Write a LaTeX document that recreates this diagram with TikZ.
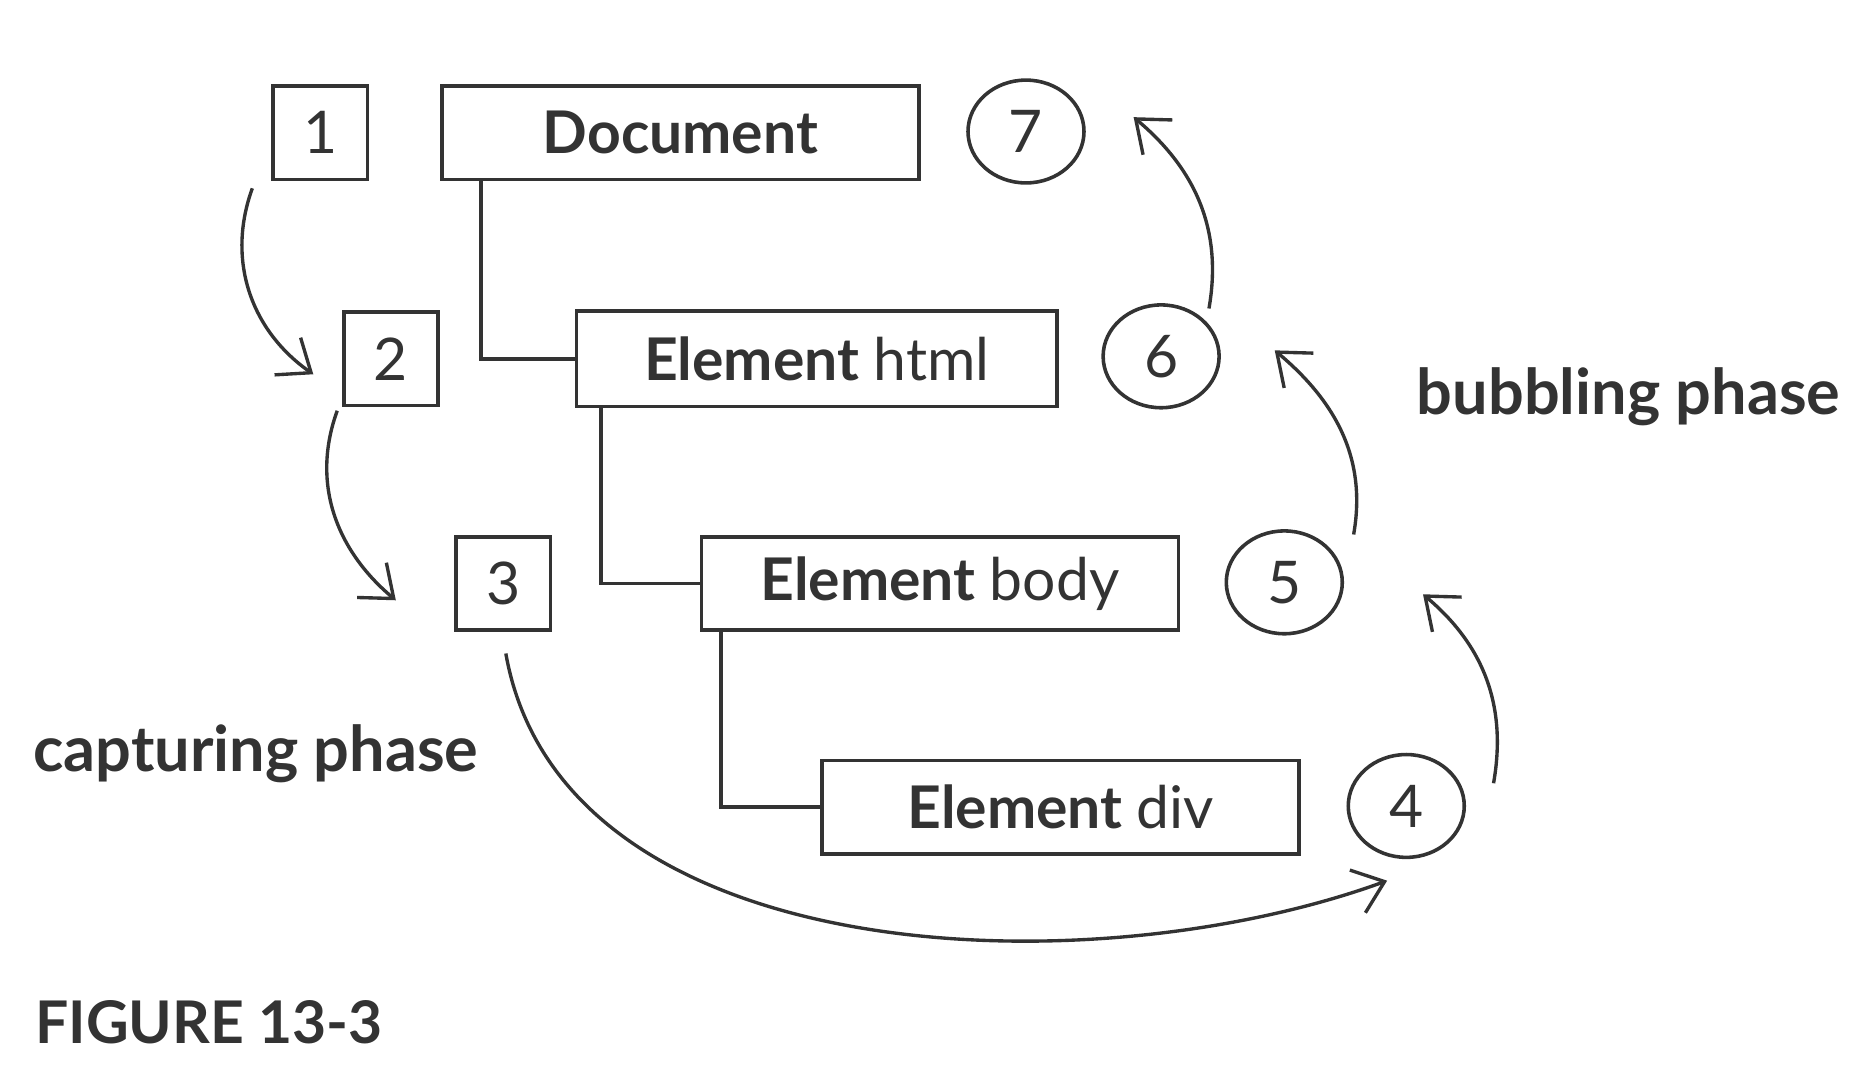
\documentclass[tikz,border=0pt]{standalone}
\usepackage{fontspec}
\setmainfont{Lato}
\usetikzlibrary{shapes.geometric,arrows.meta}
\definecolor{ink}{HTML}{333333}
\begin{document}
\begin{tikzpicture}[>={Straight Barb[length=2.4mm,width=3.8mm]},line width=0.85pt,draw=ink,text=ink,font=\fontsize{14}{16}\selectfont]
\tikzset{
  sq/.style={draw=ink,minimum width=0.79cm,minimum height=0.78cm,inner sep=0pt},
  elem/.style={draw=ink,minimum width=3.99cm,minimum height=0.78cm,inner sep=0pt},
  circ/.style={ellipse,draw=ink,minimum width=0.97cm,minimum height=0.86cm,inner sep=0pt},
  flow/.style={->,draw=ink,line width=0.8pt}
}
\useasboundingbox (0,0) rectangle (15.68,9.04);
\node[sq] (n1) at (2.68,7.93) {1};
\node[sq] (n2) at (3.27,6.04) {2};
\node[sq] (n3) at (4.21,4.16) {3};
\node[elem] (doc) at (5.69,7.93) {\bfseries Document};
\node[elem,minimum width=4.02cm,minimum height=0.8cm] (html) at (6.83,6.04) {\bfseries Element \mdseries html};
\node[elem] (body) at (7.86,4.16) {\bfseries Element \mdseries body};
\node[elem] (div) at (8.87,2.29) {\bfseries Element \mdseries div};
\node[circ] (c7) at (8.58,7.94) {7};
\node[circ] (c6) at (9.71,6.06) {6};
\node[circ] (c5) at (10.74,4.17) {5};
\node[circ] (c4) at (11.76,2.30) {4};
\node[font=\fontsize{15}{17}\selectfont\bfseries] (bub) at (13.62,5.72) {bubbling phase};
\node[font=\fontsize{15}{17}\selectfont\bfseries] (cap) at (2.14,2.74) {capturing phase};
\node[anchor=west,inner sep=0pt,font=\fontsize{14}{16}\selectfont\bfseries] (fig) at (0.28,0.49) {FIGURE 13-3};
\draw ([xshift=3.4mm]doc.south west) |- (html.west);
\draw ([xshift=2.2mm]html.south west) |- (body.west);
\draw ([xshift=1.8mm]body.south west) |- (div.west);
\draw[flow] ([xshift=-1.6mm,yshift=-0.6mm]n1.south west) to[out=250,in=145] ([xshift=-2.4mm,yshift=-1.3mm]n2.west);
\draw[flow] ([xshift=-0.4mm,yshift=-0.3mm]n2.south west) to[out=250,in=140] ([xshift=-4.9mm,yshift=-1.4mm]n3.west);
\draw[flow] ([xshift=0.2mm,yshift=-1.8mm]n3.south) to[out=280,in=200,looseness=0.9] ([xshift=-1.6mm,yshift=-1.8mm]c4.south);
\draw[flow] ([xshift=2.3mm,yshift=1.9mm]c4.east) to[out=80,in=-40] ([xshift=6.6mm,yshift=-1.0mm]c5.east);
\draw[flow] ([xshift=0.8mm,yshift=4.0mm]c5.east) to[out=80,in=-40] ([xshift=4.5mm,yshift=0.5mm]c6.east);
\draw[flow] ([xshift=-1.0mm,yshift=4.0mm]c6.east) to[out=80,in=-40] ([xshift=4.0mm,yshift=1.2mm]c7.east);
\end{tikzpicture}
\end{document}
